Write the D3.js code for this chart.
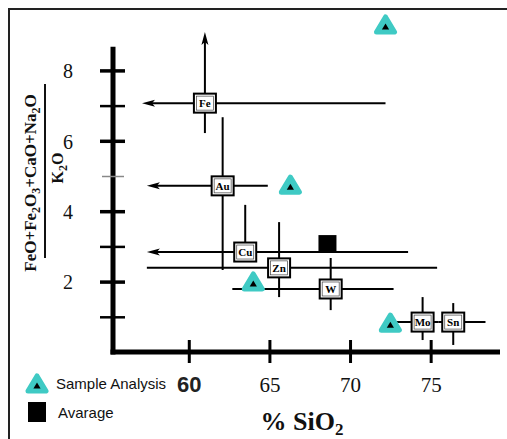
<!DOCTYPE html>
<html><head><meta charset="utf-8">
<script src="https://cdn.jsdelivr.net/npm/d3@7/dist/d3.min.js"></script>
<style>body{margin:0;background:#fff}svg{display:block}</style>
</head><body>
<script>
// ---- data ----
const minerals = ["Fe","Au","Cu","Zn","W","Mo","Sn"];
const mineralX = [61.0, 62.1, 63.5, 65.6, 68.8, 74.5, 76.4];
const mineralY = [7.07, 4.72, 2.84, 2.39, 1.79, 0.85, 0.85];
const xLow  = [57.1, 57.4, 57.4, 57.4, 62.7, 72.8, 75.5];
const xHigh = [72.2, 64.9, 73.6, 75.4, 72.7, 75.5, 78.4];
const yLow  = [6.22, 2.33, null, 1.56, 1.19, 0.34, 0.20];
const yHigh = [9.09, 6.67, 4.18, 3.69, 2.67, 1.56, 1.39];
const leftArrow = [true, true, true, false, false, false, false];
const upArrow   = [true, false, false, false, false, false, false];
const sampleX = [72.2, 66.3, 64.0, 72.5];
const sampleY = [9.29, 4.74, 1.99, 0.82];
const averageX = [68.6];
const averageY = [3.08];
const xTicks = [60, 65, 70, 75];
const yTicks = [1, 2, 3, 4, 5, 6, 7, 8];
const yTickLabels = [2, 4, 6, 8];
const legendLabels = ["Sample Analysis", "Avarage"];

const W = 507, H = 439;
const svg = d3.select("body").append("svg").attr("width", W).attr("height", H);
const serif = "'Liberation Serif','Times New Roman',serif";
const sans = "'Liberation Sans',Arial,sans-serif";
const cyan = "#3fcac4";

// frame
svg.append("path").attr("d", `M9,${H} L9,9 L${W},9`).attr("fill","none").attr("stroke","#222").attr("stroke-width",2);

const x = d3.scaleLinear().domain([55.3, 79.3]).range([113, 500]);
const y = d3.scaleLinear().domain([0, 8]).range([352, 70.4]);

// axes lines
svg.append("line").attr("x1", x(55.3)).attr("x2", x(55.3)).attr("y1", y(8.67)).attr("y2", y(0)+2.5)
  .attr("stroke","#000").attr("stroke-width",5);
svg.append("line").attr("x1", x(55.3)-2.5).attr("x2", x(79.3)).attr("y1", y(0)).attr("y2", y(0))
  .attr("stroke","#000").attr("stroke-width",5);

// y axis ticks
const yAxis = d3.axisLeft(y).tickValues(yTicks).tickSize(12)
  .tickFormat(d => yTickLabels.includes(d) ? d : "");
const gy = svg.append("g").attr("transform", `translate(${x(55.3)},0)`).call(yAxis);
gy.select(".domain").remove();
gy.selectAll(".tick line").attr("x1", d => d === 5 ? -11 : -13).attr("x2", d => d === 5 ? 11 : 12)
  .attr("stroke-width", d => d % 2 === 0 ? 3.5 : (d === 5 ? 1.5 : 2.5)).attr("stroke", d => d === 5 ? "#888" : "#000");
gy.selectAll(".tick text").attr("x", -45).attr("text-anchor","middle").attr("dy","0.36em")
  .style("font-family", serif).style("font-size","20px").attr("fill","#111");

// x axis ticks
const xAxis = d3.axisBottom(x).tickValues(xTicks).tickSize(12).tickFormat(d => d);
const gx = svg.append("g").attr("transform", `translate(0,${y(0)})`).call(xAxis);
gx.select(".domain").remove();
gx.selectAll(".tick line").attr("y1", -12).attr("y2", 11).attr("stroke","#000").attr("stroke-width",3);
gx.selectAll(".tick text").attr("y", 40).attr("dy","0")
  .style("font-family", d => d === 60 ? sans : serif)
  .style("font-size", d => d === 60 ? "22px" : "21px")
  .style("font-weight", d => d === 60 ? "bold" : "normal")
  .attr("fill", d => d === 60 ? "#222" : "#111");

// x title
const xt = svg.append("text").attr("x", 302).attr("y", 430).attr("text-anchor","middle")
  .style("font-family", serif).style("font-size","26px").style("font-weight","bold").attr("fill","#111");
xt.append("tspan").text("% SiO");
xt.append("tspan").text("2").style("font-size","17px").attr("dy", 5);

// y title (fraction)
const num = svg.append("text").attr("transform","translate(36,183) rotate(-90)")
  .attr("text-anchor","middle").style("font-family", serif).style("font-size","17px")
  .style("font-weight","bold").attr("fill","#111");
const parts = [["FeO+Fe",0],["2",1],["O",0],["3",1],["+CaO+Na",0],["2",1],["O",0]];
let prev = 0;
parts.forEach(([t, sub]) => {
  const dy = sub ? 4 : 0;
  num.append("tspan").text(t).attr("dy", dy - prev).style("font-size", sub ? "12px" : "17px");
  prev = dy;
});
svg.append("line").attr("x1",45).attr("x2",45).attr("y1",84).attr("y2",258).attr("stroke","#111").attr("stroke-width",2);
const den = svg.append("text").attr("transform","translate(63,168) rotate(-90)")
  .attr("text-anchor","middle").style("font-family", serif).style("font-size","16px")
  .style("font-weight","bold").attr("fill","#111");
den.append("tspan").text("K");
den.append("tspan").text("2").attr("dy",4).style("font-size","12px");
den.append("tspan").text("O").attr("dy",-4);

const data = minerals.map((m, i) => ({m, cx: mineralX[i], cy: mineralY[i], x0: xLow[i], x1: xHigh[i],
  y0: yLow[i], y1: yHigh[i], la: leftArrow[i], ua: upArrow[i]}));

const eg = svg.append("g");
data.forEach(d => {
  const px = x(d.cx), py = y(d.cy);
  eg.append("line").attr("x1", x(d.x0) + (d.la ? 6 : 0)).attr("x2", x(d.x1)).attr("y1", py).attr("y2", py)
    .attr("stroke","#000").attr("stroke-width",2);
  if (d.la) {
    const tx = x(d.x0);
    eg.append("path").attr("d", `M${tx},${py} L${tx+13},${py-3.5} L${tx+10},${py} L${tx+13},${py+3.5} Z`).attr("fill","#000");
  }
  const yb = d.y0 === null ? d.cy : d.y0;
  eg.append("line").attr("x1", px).attr("x2", px).attr("y1", y(yb)).attr("y2", y(d.y1) + (d.ua ? 6 : 0))
    .attr("stroke","#000").attr("stroke-width",2);
  if (d.ua) {
    const ty = y(d.y1);
    eg.append("path").attr("d", `M${px},${ty} L${px-3.5},${ty+13} L${px},${ty+10} L${px+3.5},${ty+13} Z`).attr("fill","#000");
  }
});

// average square
svg.selectAll(".avg").data(averageX).enter().append("rect")
  .attr("x", (d,i) => x(d) - 9).attr("y", (d,i) => y(averageY[i]) - 8.5)
  .attr("width", 18).attr("height", 17).attr("fill","#000");

// mineral boxes
const bg = svg.selectAll(".box").data(data).enter().append("g")
  .attr("transform", d => `translate(${x(d.cx)},${y(d.cy)})`);
bg.append("rect").attr("x",-11).attr("y",-9.5).attr("width",22).attr("height",19)
  .attr("fill","#fff").attr("stroke","#000").attr("stroke-width",2);
bg.append("rect").attr("x",-8.5).attr("y",-7).attr("width",17).attr("height",14)
  .attr("fill","none").attr("stroke","#444").attr("stroke-width",0.7);
bg.append("text").text(d => d.m).attr("text-anchor","middle").attr("dy","0.35em")
  .style("font-family", serif).style("font-size","11px").style("font-weight","bold").attr("fill","#000");

// sample triangles
function tri(g, cx, cy) {
  const t = g.append("g").attr("transform", `translate(${cx},${cy})`);
  t.append("path").attr("d","M0,-8 L9,7 L-9,7 Z").attr("fill",cyan).attr("stroke",cyan)
    .attr("stroke-width",5).attr("stroke-linejoin","round");
  t.append("path").attr("d","M0,-1.5 L3.6,4.5 L-3.6,4.5 Z").attr("fill","#000");
}
sampleX.forEach((sx, i) => tri(svg, x(sx), y(sampleY[i])));

// legend
tri(svg, 37, 384);
svg.append("rect").attr("x",28).attr("y",402).attr("width",18).attr("height",20).attr("fill","#000");
svg.selectAll(".leg").data(legendLabels).enter().append("text")
  .attr("x", (d,i) => i === 0 ? 56 : 58).attr("y", (d,i) => i === 0 ? 389 : 418)
  .text(d => d).style("font-family", sans).style("font-size","15px").attr("fill","#111");
</script>
</body></html>
